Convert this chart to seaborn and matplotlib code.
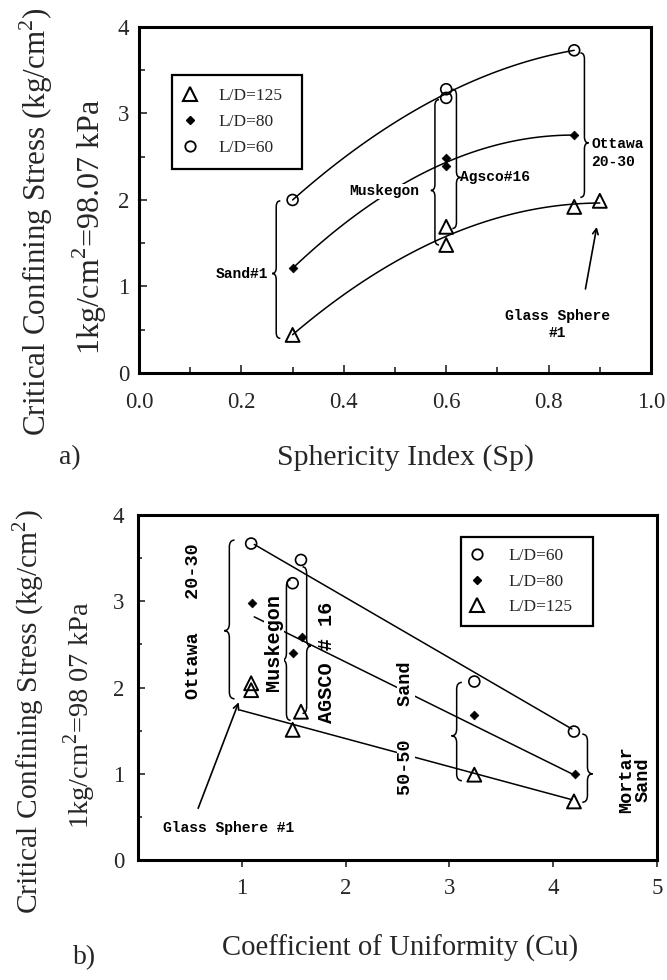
import matplotlib
matplotlib.use("Agg")
import matplotlib.pyplot as plt
from matplotlib.path import Path
from matplotlib.patches import PathPatch
from matplotlib.lines import Line2D
from matplotlib.ticker import MultipleLocator
import seaborn as sns

# ---------------- (a) critical confining stress vs sphericity index
sp_ld60 = [0.30, 0.60, 0.60, 0.85]
stress_sp_ld60 = [2.00, 3.28, 3.18, 3.73]
sp_ld80 = [0.30, 0.60, 0.60, 0.85]
stress_sp_ld80 = [1.21, 2.48, 2.39, 2.75]
sp_ld125 = [0.30, 0.60, 0.60, 0.85, 0.90]
stress_sp_ld125 = [0.44, 1.69, 1.48, 1.92, 1.99]

# ---------------- (b) critical confining stress vs coefficient of uniformity
cu_ld60 = [1.09, 1.49, 1.57, 3.24, 4.20]
stress_cu_ld60 = [3.67, 3.21, 3.48, 2.07, 1.49]
cu_ld80 = [1.10, 1.49, 1.58, 3.24, 4.21]
stress_cu_ld80 = [2.98, 2.40, 2.59, 1.68, 1.00]
cu_ld125 = [1.09, 1.09, 1.49, 1.57, 3.24, 4.20]
stress_cu_ld125 = [2.05, 1.97, 1.51, 1.72, 0.99, 0.68]

# straight trend lines of panel (b): end points
trend_cu_ld60 = [1.12, 4.18]
trend_stress_ld60 = [3.66, 1.52]
trend_cu_ld80 = [1.12, 4.18]
trend_stress_ld80 = [2.82, 1.00]
trend_cu_ld125 = [0.98, 4.18]
trend_stress_ld125 = [1.74, 0.70]

sp_ticks = [0.0, 0.2, 0.4, 0.6, 0.8, 1.0]
sp_ticklabels = ["0.0", "0.2", "0.4", "0.6", "0.8", "1.0"]
cu_ticks = [1, 2, 3, 4, 5]
stress_ticks = [0, 1, 2, 3, 4]

sns.set_style("white")
plt.rcParams["font.family"] = ["Liberation Serif", "DejaVu Serif"]
plt.rcParams["mathtext.fontset"] = "custom"
plt.rcParams["mathtext.rm"] = "Liberation Serif"

SERIF = "Liberation Serif"
MONO = dict(family="Liberation Mono", weight="bold", color="black")
LW = 1.1
SMALL = 10.5

fig = plt.figure(figsize=(6.67, 9.8), dpi=100)
ax1 = fig.add_axes([0.2084, 0.6194, 0.7676, 0.3531])
ax2 = fig.add_axes([0.2069, 0.1224, 0.7781, 0.3520])


def points(ax, x, y, kind):
    if kind == "circle":
        sns.scatterplot(x=x, y=y, ax=ax, marker="o", s=62, facecolor="none",
                        edgecolor="black", linewidth=1.2, zorder=4)
    elif kind == "dot":
        sns.scatterplot(x=x, y=y, ax=ax, marker="D", s=20, color="black",
                        edgecolor="black", linewidth=0.5, zorder=4)
    else:
        sns.scatterplot(x=x, y=y, ax=ax, marker="^", s=100, facecolor="none",
                        edgecolor="black", linewidth=1.4, zorder=4)


def brace(ax, x, y0, y1, ym, w, h, side):
    """Vertical curly brace at x from y0 to y1 with its tip at ym."""
    d = w * side
    verts = [(x - d, y0), (x, y0), (x, y0 + h),
             (x, ym - h),
             (x, ym), (x + d, ym),
             (x, ym), (x, ym + h),
             (x, y1 - h),
             (x, y1), (x - d, y1)]
    codes = [Path.MOVETO, Path.CURVE3, Path.CURVE3,
             Path.LINETO,
             Path.CURVE3, Path.CURVE3,
             Path.CURVE3, Path.CURVE3,
             Path.LINETO,
             Path.CURVE3, Path.CURVE3]
    ax.add_patch(PathPatch(Path(verts, codes), facecolor="none",
                           edgecolor="black", lw=1.1, zorder=3))


def style_axes(ax):
    for sp in ax.spines.values():
        sp.set_visible(True)
        sp.set_linewidth(2.2)
        sp.set_color("black")
    ax.set_xlabel("")
    ax.set_ylabel("")


def boxed_legend(ax, handles, labels, anchor, pad, textpad):
    leg = ax.legend(handles, labels, loc="upper left", bbox_to_anchor=anchor,
                    mode="expand", borderaxespad=0, frameon=True,
                    fancybox=False, prop=dict(family=SERIF, size=12.5),
                    handlelength=0.6, handletextpad=textpad,
                    labelspacing=0.55, borderpad=pad)
    leg.get_frame().set_edgecolor("black")
    leg.get_frame().set_linewidth(1.6)
    leg.get_frame().set_alpha(1)
    return leg


white_box = dict(facecolor="white", edgecolor="none", pad=0.5)

tri_handle = Line2D([], [], ls="none", marker="^", ms=10, mfc="none",
                    mec="black", mew=1.5)
dot_handle = Line2D([], [], ls="none", marker="D", ms=4, mfc="black",
                    mec="black")
circ_handle = Line2D([], [], ls="none", marker="o", ms=7.5, mfc="none",
                     mec="black", mew=1.3)

# ---------------- panel (a)
for x, y, kind in [(sp_ld60, stress_sp_ld60, "circle"),
                   (sp_ld80, stress_sp_ld80, "dot"),
                   (sp_ld125, stress_sp_ld125, "tri")]:
    sns.regplot(x=x, y=y, ax=ax1, order=2, ci=None, scatter=False,
                truncate=True, line_kws=dict(color="black", lw=LW, zorder=2))
    points(ax1, x, y, kind)

ax1.set_xlim(0, 1.0)
ax1.set_ylim(0, 4)
ax1.set_xticks(sp_ticks)
ax1.set_xticklabels(sp_ticklabels)
ax1.set_yticks(stress_ticks)
ax1.xaxis.set_minor_locator(MultipleLocator(0.1))
ax1.yaxis.set_minor_locator(MultipleLocator(0.5))
ax1.tick_params(axis="both", which="both", direction="in", left=True,
                bottom=True, top=False, right=False, width=1.2,
                labelsize=16.5)
ax1.tick_params(axis="both", which="major", length=6)
ax1.tick_params(axis="both", which="minor", length=4)
ax1.tick_params(axis="x", pad=14)
ax1.tick_params(axis="y", pad=7)
style_axes(ax1)

brace(ax1, 0.268, 0.40, 1.99, 1.15, 0.008, 0.07, -1)
brace(ax1, 0.578, 1.48, 3.16, 2.11, 0.008, 0.07, -1)
brace(ax1, 0.620, 1.67, 3.28, 2.26, 0.008, 0.07, +1)
brace(ax1, 0.870, 2.03, 3.70, 2.66, 0.008, 0.07, +1)

ax1.text(0.252, 1.15, "Sand#1", ha="right", va="center", fontsize=SMALL, **MONO)
ax1.text(0.547, 2.10, "Muskegon", ha="right", va="center", fontsize=SMALL,
         bbox=white_box, zorder=5, **MONO)
ax1.text(0.626, 2.26, "Agsco#16", ha="left", va="center", fontsize=SMALL,
         **MONO)
ax1.text(0.884, 2.54, "Ottawa\n20-30", ha="left", va="center",
         fontsize=SMALL, linespacing=1.35, **MONO)
ax1.text(0.818, 0.56, "Glass Sphere\n#1", ha="center", va="center",
         fontsize=SMALL, linespacing=1.35, **MONO)
ax1.annotate("", xy=(0.895, 1.72), xytext=(0.871, 0.94),
             arrowprops=dict(arrowstyle="->", color="black", lw=1.2))

boxed_legend(ax1, [tri_handle, dot_handle, circ_handle],
             ["L/D=125", "L/D=80", "L/D=60"],
             (0.0645, 0.0, 0.254, 0.861), pad=0.75, textpad=1.35)

# ---------------- panel (b)
for tx, ty in [(trend_cu_ld60, trend_stress_ld60),
               (trend_cu_ld80, trend_stress_ld80),
               (trend_cu_ld125, trend_stress_ld125)]:
    sns.lineplot(x=tx, y=ty, ax=ax2, color="black", lw=LW, zorder=2)
points(ax2, cu_ld60, stress_cu_ld60, "circle")
points(ax2, cu_ld80, stress_cu_ld80, "dot")
points(ax2, cu_ld125, stress_cu_ld125, "tri")

ax2.set_xlim(0, 5)
ax2.set_ylim(0, 4)
ax2.set_xticks(cu_ticks)
ax2.set_yticks(stress_ticks)
ax2.yaxis.set_minor_locator(MultipleLocator(0.5))
ax2.tick_params(axis="x", which="major", direction="out", length=5,
                width=1.2, bottom=True, labelsize=16.5, pad=8)
ax2.tick_params(axis="y", which="both", direction="in", left=True,
                width=1.2, labelsize=16.5, pad=10)
ax2.tick_params(axis="y", which="major", length=5)
ax2.tick_params(axis="y", which="minor", length=3)
style_axes(ax2)

brace(ax2, 0.88, 1.87, 3.71, 2.66, 0.05, 0.08, -1)
brace(ax2, 1.43, 1.62, 3.25, 2.32, 0.04, 0.08, -1)
brace(ax2, 1.625, 1.70, 3.40, 2.48, 0.04, 0.08, +1)
brace(ax2, 3.07, 0.92, 2.06, 1.44, 0.05, 0.08, -1)
brace(ax2, 4.33, 0.67, 1.46, 1.00, 0.05, 0.08, +1)

ax2.text(0.53, 2.77, "Ottawa   20-30", rotation=90, ha="center",
         va="center", fontsize=13.3, **MONO)
ax2.text(1.31, 2.52, "Muskegon", rotation=90, ha="center", va="center",
         fontsize=14.5, bbox=white_box, zorder=5, **MONO)
ax2.text(1.82, 2.29, "AGSCO # 16", rotation=90, ha="center", va="center",
         fontsize=14.5, **MONO)
ax2.text(2.58, 1.53, "50-50   Sand", rotation=90, ha="center", va="center",
         fontsize=13.3, bbox=white_box, zorder=5, **MONO)
ax2.text(4.79, 0.93, "Mortar\nSand", rotation=90, ha="center", va="center",
         fontsize=13.3, linespacing=0.95, **MONO)
ax2.text(0.87, 0.37, "Glass Sphere #1", ha="center", va="center",
         fontsize=SMALL, **MONO)
ax2.annotate("", xy=(0.98, 1.86), xytext=(0.57, 0.57),
             arrowprops=dict(arrowstyle="->", color="black", lw=1.2))

boxed_legend(ax2, [circ_handle, dot_handle, tri_handle],
             ["L/D=60", "L/D=80", "L/D=125"],
             (0.622, 0.0, 0.254, 0.936), pad=0.62, textpad=1.5)

# ---------------- axis titles and panel tags
W, H = 667.0, 980.0


def ftext(px, py, s, **kw):
    fig.text(px / W, 1 - py / H, s, **kw)


ftext(36, 222, r"Critical Confining Stress (kg/cm$^{2}$)", rotation=90,
      ha="center", va="center", fontsize=22.4)
ftext(90, 227, r"1kg/cm$^{2}$=98.07 kPa", rotation=90, ha="center",
      va="center", fontsize=23)
ftext(28, 712, r"Critical Confining Stress (kg/cm$^{2}$)", rotation=90,
      ha="center", va="center", fontsize=21.2)
ftext(80, 715, r"1kg/cm$^{2}$=98 07 kPa", rotation=90, ha="center",
      va="center", fontsize=20.4)
ftext(405, 458, "Sphericity Index (Sp)", ha="center", va="center",
      fontsize=21.5)
ftext(400, 948, "Coefficient of Uniformity (Cu)", ha="center", va="center",
      fontsize=20.7)
ftext(70, 458, "a)", ha="center", va="center", fontsize=20)
ftext(85, 958, "b)", ha="center", va="center", fontsize=20)

fig.savefig("out.png", dpi=100)
